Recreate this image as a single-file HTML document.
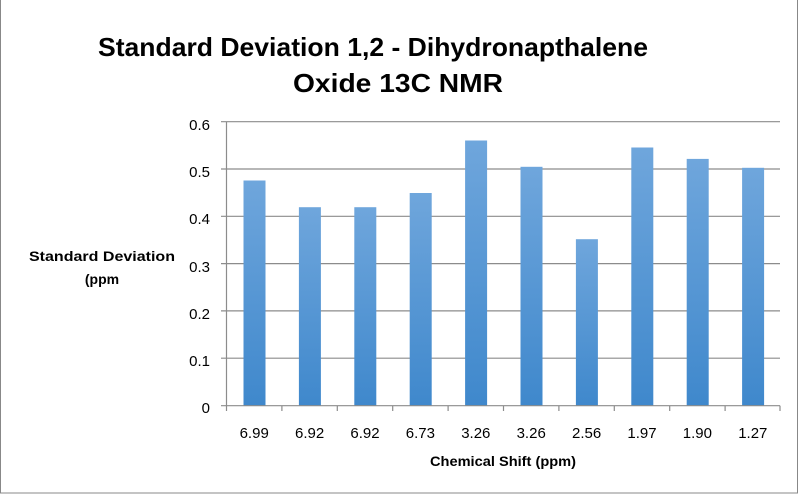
<!DOCTYPE html><html><head><style>body{margin:0;background:#fff}svg{display:block}</style></head><body>
<svg width="800" height="495" viewBox="0 0 800 495" font-family="Liberation Sans, sans-serif">
<defs><linearGradient id="g" x1="0" y1="0" x2="0" y2="1"><stop offset="0" stop-color="#6fa6dc"/><stop offset="1" stop-color="#3f88cc"/></linearGradient></defs>
<rect x="0.5" y="-1" width="797" height="494" fill="#fff" stroke="#888"/>
<text x="98" y="56" font-size="26" font-weight="bold" textLength="550" lengthAdjust="spacingAndGlyphs">Standard Deviation 1,2 - Dihydronapthalene</text>
<text x="293" y="92" font-size="26" font-weight="bold" textLength="210" lengthAdjust="spacingAndGlyphs">Oxide 13C NMR</text>
<g stroke="#8c8c8c" stroke-width="1.2">
<line x1="221" y1="121.7" x2="780" y2="121.7"/><line x1="221" y1="169" x2="780" y2="169"/><line x1="221" y1="216.3" x2="780" y2="216.3"/><line x1="221" y1="263.6" x2="780" y2="263.6"/><line x1="221" y1="310.9" x2="780" y2="310.9"/><line x1="221" y1="358.2" x2="780" y2="358.2"/>
</g>
<g fill="url(#g)">
<rect x="243.5" y="180.5" width="22" height="225.2"/>
<rect x="298.9" y="207.2" width="22" height="198.5"/>
<rect x="354.3" y="207.2" width="22" height="198.5"/>
<rect x="409.7" y="193" width="22" height="212.7"/>
<rect x="465.1" y="140.5" width="22" height="265.2"/>
<rect x="520.5" y="166.8" width="22" height="238.9"/>
<rect x="575.9" y="239.2" width="22" height="166.5"/>
<rect x="631.3" y="147.5" width="22" height="258.2"/>
<rect x="686.7" y="158.9" width="22" height="246.8"/>
<rect x="742.1" y="167.8" width="22" height="237.9"/>
</g>
<g stroke="#8c8c8c" stroke-width="1.2">
<line x1="221" y1="405.7" x2="780" y2="405.7"/><line x1="226.5" y1="121.7" x2="226.5" y2="405.7"/>
<line x1="226.5" y1="405.7" x2="226.5" y2="411"/><line x1="281.9" y1="405.7" x2="281.9" y2="411"/><line x1="337.3" y1="405.7" x2="337.3" y2="411"/><line x1="392.7" y1="405.7" x2="392.7" y2="411"/><line x1="448.1" y1="405.7" x2="448.1" y2="411"/><line x1="503.5" y1="405.7" x2="503.5" y2="411"/><line x1="558.9" y1="405.7" x2="558.9" y2="411"/><line x1="614.3" y1="405.7" x2="614.3" y2="411"/><line x1="669.7" y1="405.7" x2="669.7" y2="411"/><line x1="725.1" y1="405.7" x2="725.1" y2="411"/><line x1="780" y1="405.7" x2="780" y2="411"/>
</g>
<g font-size="15" text-anchor="end">
<text x="210" y="130">0.6</text><text x="210" y="177">0.5</text><text x="210" y="224">0.4</text><text x="210" y="272">0.3</text><text x="210" y="319">0.2</text><text x="210" y="366">0.1</text><text x="210" y="413">0</text>
</g>
<g font-size="15" text-anchor="middle">
<text x="254.2" y="438">6.99</text><text x="309.6" y="438">6.92</text><text x="365" y="438">6.92</text><text x="420.4" y="438">6.73</text><text x="475.8" y="438">3.26</text><text x="531.2" y="438">3.26</text><text x="586.6" y="438">2.56</text><text x="642" y="438">1.97</text><text x="697.4" y="438">1.90</text><text x="752.8" y="438">1.27</text>
</g>
<text x="503" y="466" font-size="14" font-weight="bold" text-anchor="middle" textLength="146" lengthAdjust="spacingAndGlyphs">Chemical Shift (ppm)</text>
<text x="102" y="261" font-size="14" font-weight="bold" text-anchor="middle" textLength="146" lengthAdjust="spacingAndGlyphs">Standard Deviation</text>
<text x="102" y="284" font-size="14" font-weight="bold" text-anchor="middle">(ppm</text>
</svg>
</body></html>
